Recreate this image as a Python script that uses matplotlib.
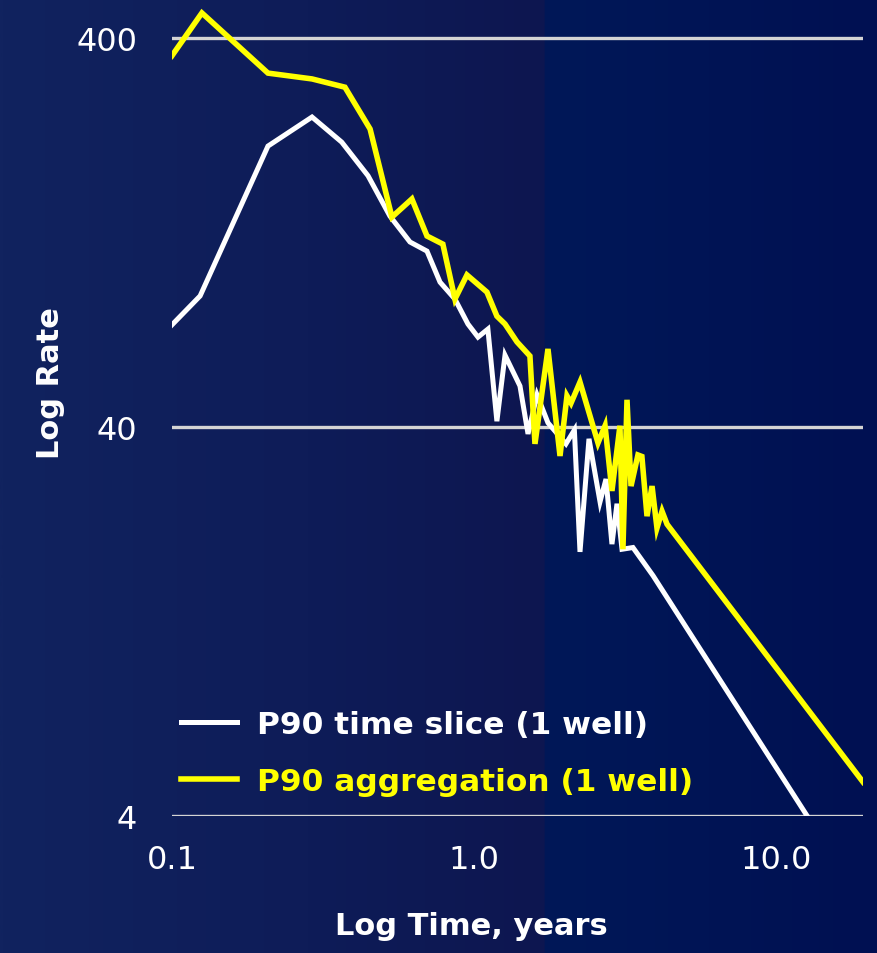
import numpy as np
import matplotlib
matplotlib.use("Agg")
import matplotlib.pyplot as plt
from matplotlib.colors import LinearSegmentedColormap

# P90 time slice (1 well) - white curve
slice_t = [0.100, 0.124, 0.208, 0.291, 0.365, 0.446, 0.527, 0.614, 0.699, 0.772,
           0.865, 0.955, 1.031, 1.112, 1.191, 1.267, 1.420, 1.510, 1.617, 1.758,
           2.016, 2.150, 2.244, 2.403, 2.614, 2.736, 2.863, 2.975, 3.091, 3.360,
           3.915, 12.76]
slice_rate = [73.2, 86.9, 211, 250.6, 216, 177, 139.4, 119.6, 113.3, 94.3,
              85.3, 73.6, 68.1, 71.4, 41.4, 61.2, 51.0, 38.4, 48.4, 41.0,
              36.2, 39.3, 19.1, 37.3, 25.7, 29.4, 20.0, 25.4, 19.4, 19.6,
              16.6, 3.97]

# P90 aggregation (1 well) - yellow curve
agg_t = [0.100, 0.1257, 0.208, 0.291, 0.374, 0.453, 0.535, 0.623, 0.699, 0.789,
         0.865, 0.948, 1.104, 1.191, 1.267, 1.388, 1.532, 1.592, 1.758, 1.927,
         2.032, 2.096, 2.244, 2.574, 2.716, 2.863, 3.043, 3.113, 3.211, 3.311,
         3.490, 3.597, 3.740, 3.886, 4.035, 4.194, 4.357, 19.41]
agg_rate = [360, 464, 325, 314, 299, 233.5, 138.6, 154.3, 123.9, 118.1,
            85.3, 98.4, 88.9, 77.1, 73.6, 66.2, 60.9, 36.2, 63.5, 33.7,
            48.1, 46.1, 52.2, 36.4, 40.3, 27.4, 40.3, 19.4, 47.0, 28.2,
            33.9, 33.6, 23.6, 28.2, 22.0, 24.3, 22.5, 4.89]

x_ticks = [0.1, 1.0, 10.0]
x_ticklabels = ["0.1", "1.0", "10.0"]
y_ticks = [4, 40, 400]
y_ticklabels = ["4", "40", "400"]

fig = plt.figure(figsize=(8.77, 9.54), dpi=100)

# background gradient (dark blue)
bg = fig.add_axes([0, 0, 1, 1], zorder=-10)
bg_cmap = LinearSegmentedColormap.from_list("bg", [
    (0.0, (17/255, 35/255, 95/255)),
    (0.35, (14/255, 28/255, 88/255)),
    (0.62, (13/255, 22/255, 80/255)),
    (0.622, (0/255, 24/255, 88/255)),
    (1.0, (0/255, 16/255, 82/255)),
])
bg.imshow(np.linspace(0, 1, 512)[None, :], aspect="auto", cmap=bg_cmap,
          extent=[0, 1, 0, 1])
bg.axis("off")

ax = fig.add_axes([0.196, 0.1436, 0.788, 0.855])
ax.set_facecolor("none")
ax.set_xscale("log")
ax.set_yscale("log")

ax.plot(slice_t, slice_rate, color="white", lw=3.6, label="P90 time slice (1 well)",
        solid_joinstyle="miter", zorder=3)
ax.plot(agg_t, agg_rate, color="#ffff00", lw=4.0, label="P90 aggregation (1 well)",
        solid_joinstyle="miter", zorder=4)

ax.set_xlim(0.1, 19.4)
ax.set_ylim(4, 500)

ax.set_xticks(x_ticks)
ax.set_xticklabels(x_ticklabels)
ax.set_yticks(y_ticks)
ax.set_yticklabels(y_ticklabels)
ax.minorticks_off()
ax.tick_params(axis="both", length=0, colors="white", labelsize=23)
ax.tick_params(axis="x", pad=20)
ax.tick_params(axis="y", pad=25)

for s in ax.spines.values():
    s.set_visible(False)
ax.grid(axis="y", color="#d4d4d4", lw=2.4, zorder=1)
ax.set_axisbelow(True)

ax.set_xlabel("Log Time, years", color="white", fontsize=22, fontweight="bold")
ax.xaxis.set_label_coords(0.433, -0.117)
ax.set_ylabel("Log Rate", color="white", fontsize=22, fontweight="bold")
ax.yaxis.set_label_coords(-0.155, 0.532)

leg = ax.legend(loc="upper left", bbox_to_anchor=(0.013, 0.130), frameon=False,
                prop={"size": 22.5, "weight": "bold"}, handlelength=1.8,
                handletextpad=0.62, labelspacing=0.9, borderpad=0,
                borderaxespad=0, labelcolor="linecolor")

fig.savefig("out.png", dpi=100)
